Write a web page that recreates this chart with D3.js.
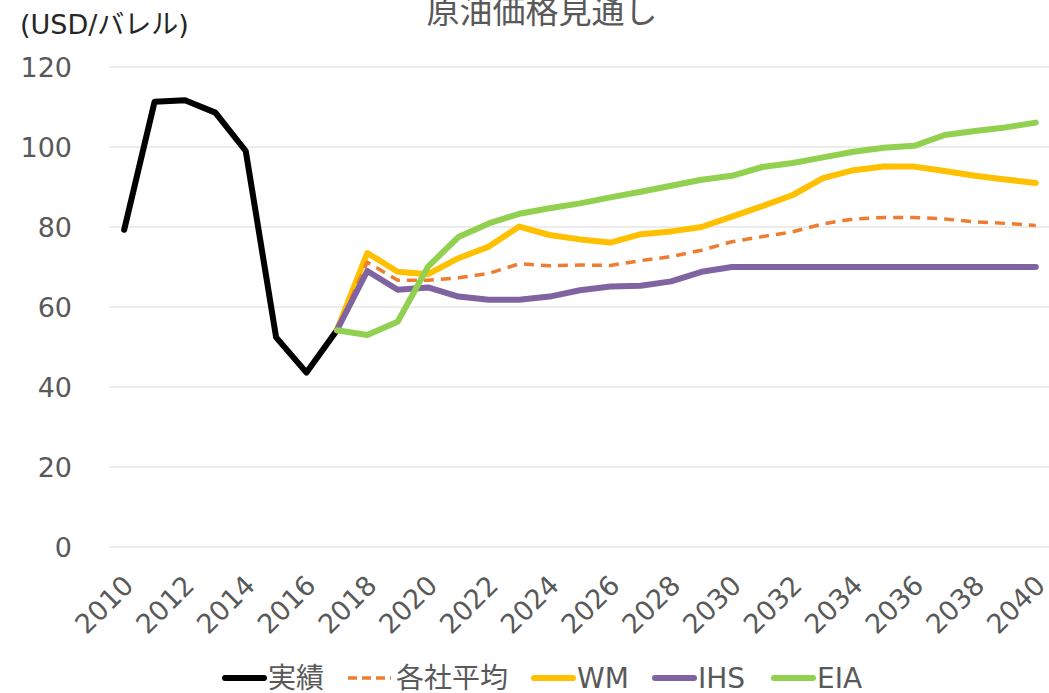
<html>
<head>
  <meta charset="utf-8">
  <style type="text/css">
    body { margin: 0; background: #fff; }
    text { font-family: "DejaVu Sans", "Noto Sans CJK JP", sans-serif; }
  </style>
</head>
<body>
  <div id="viz"></div>
  <script src="https://cdnjs.cloudflare.com/ajax/libs/d3/7.8.5/d3.min.js"></script>
  <script>
  // data
  const years = d3.range(2010, 2041);
  const tickYears = d3.range(2010, 2041, 2);
  const yTicks = [0, 20, 40, 60, 80, 100, 120];

  // actual 2010-2017
  const actual = [79.3, 111.3, 111.7, 108.6, 99.0, 52.4, 43.6, 54.2];
  // forecasts 2017-2040
  const average = [54.2, 71.2, 66.7, 66.7, 67.3, 68.4, 70.8, 70.3, 70.5, 70.4, 71.6, 72.6, 74.2,
    76.3, 77.6, 78.8, 80.8, 82.0, 82.4, 82.4, 82.0, 81.3, 80.9, 80.4];
  const wm = [54.2, 73.5, 68.8, 68.2, 72.2, 75.1, 80.1, 78.0, 76.9, 76.1, 78.2, 78.9, 80.0,
    82.6, 85.2, 88.0, 92.2, 94.2, 95.1, 95.1, 94.0, 92.8, 91.9, 91.0];
  const ihs = [54.2, 69.0, 64.3, 64.9, 62.6, 61.8, 61.8, 62.6, 64.2, 65.1, 65.3, 66.4, 68.8,
    70.0, 70.0, 70.0, 70.0, 70.0, 70.0, 70.0, 70.0, 70.0, 70.0, 70.0];
  const eia = [54.2, 53.0, 56.3, 70.1, 77.5, 80.9, 83.3, 84.7, 85.9, 87.4, 88.8, 90.3, 91.8,
    92.8, 95.0, 96.0, 97.4, 98.8, 99.8, 100.3, 103.0, 104.0, 104.9, 106.1];

  const width = 1049, height = 693;
  const margin = { top: 67, right: -2, bottom: 146, left: 109 };
  const grey = '#595959';

  const svg = d3.select('#viz').append('svg')
    .attr('width', width)
    .attr('height', height);

  const x = d3.scaleBand()
    .domain(years)
    .range([margin.left, width - margin.right]);
  const y = d3.scaleLinear()
    .domain([0, 120])
    .range([height - margin.bottom, margin.top]);

  const cx = d => x(d) + x.bandwidth() / 2;

  // gridlines
  svg.append('g')
    .selectAll('line').data(yTicks)
    .enter().append('line')
      .attr('x1', margin.left)
      .attr('x2', width)
      .attr('y1', d => y(d))
      .attr('y2', d => y(d))
      .attr('stroke', '#d9d9d9')
      .attr('stroke-width', 1);

  // y axis labels
  const yAxis = d3.axisLeft(y).tickValues(yTicks).tickSize(0).tickPadding(0);
  const yG = svg.append('g')
    .attr('transform', 'translate(72,0)')
    .call(yAxis);
  yG.select('.domain').remove();
  yG.selectAll('text')
    .attr('fill', grey)
    .style('font-family', '"DejaVu Sans", sans-serif')
    .style('font-size', '27px')
    .attr('dy', '0.35em');

  // x axis labels
  const xAxis = d3.axisBottom(x).tickValues(tickYears).tickSize(0).tickPadding(0);
  const xG = svg.append('g')
    .attr('transform', 'translate(0,' + (height - margin.bottom) + ')')
    .call(xAxis);
  xG.select('.domain').remove();
  xG.selectAll('text')
    .attr('fill', grey)
    .style('font-family', '"DejaVu Sans", sans-serif')
    .style('font-size', '27px')
    .attr('text-anchor', 'end')
    .attr('y', 0)
    .attr('dy', '0')
    .attr('transform', 'translate(11,40) rotate(-45)');

  const line = d3.line()
    .x(d => cx(d.year))
    .y(d => y(d.value));

  const toPoints = (arr, start) => arr.map((v, i) => ({ year: start + i, value: v }));

  const series = [
    { name: '実績', data: toPoints(actual, 2010), color: '#000000', dash: null, w: 6 },
    { name: '各社平均', data: toPoints(average, 2017), color: '#ED7D31', dash: '10,7', w: 3.5 },
    { name: 'WM', data: toPoints(wm, 2017), color: '#FFC000', dash: null, w: 6 },
    { name: 'IHS', data: toPoints(ihs, 2017), color: '#8064A2', dash: null, w: 6 },
    { name: 'EIA', data: toPoints(eia, 2017), color: '#92D050', dash: null, w: 6 }
  ];

  // draw order: average under the others like the original
  const drawOrder = [series[0], series[2], series[1], series[3], series[4]];
  svg.append('g')
    .selectAll('path').data(drawOrder)
    .enter().append('path')
      .attr('d', d => line(d.data))
      .attr('fill', 'none')
      .attr('stroke', d => d.color)
      .attr('stroke-width', d => d.w)
      .attr('stroke-dasharray', d => d.dash)
      .attr('stroke-linejoin', 'round')
      .attr('stroke-linecap', d => d.dash ? 'butt' : 'round');

  // title and unit
  svg.append('text')
    .attr('x', 542)
    .attr('y', 23)
    .attr('text-anchor', 'middle')
    .attr('fill', grey)
    .style('font-size', '33px')
    .text('原油価格見通し');

  svg.append('text')
    .attr('x', 20)
    .attr('y', 34)
    .attr('fill', '#262626')
    .style('font-size', '27px')
    .text('(USD/バレル)');

  // legend
  const legendX = [222, 348, 531, 652, 771];
  const legend = svg.append('g')
    .selectAll('g').data(series)
    .enter().append('g')
      .attr('transform', (d, i) => 'translate(' + legendX[i] + ',678)');
  legend.append('line')
    .attr('x1', d => d.dash ? 0 : 3).attr('x2', d => d.dash ? 43 : 42)
    .attr('stroke', d => d.color)
    .attr('stroke-width', d => d.w)
    .attr('stroke-dasharray', d => d.dash ? '9,5' : null)
    .attr('stroke-linecap', d => d.dash ? 'butt' : 'round');
  legend.append('text')
    .attr('x', d => d.dash ? 48 : 46)
    .attr('dy', '0.35em')
    .attr('fill', grey)
    .style('font-size', '28px')
    .text(d => d.name);
  </script>
</body>
</html>
